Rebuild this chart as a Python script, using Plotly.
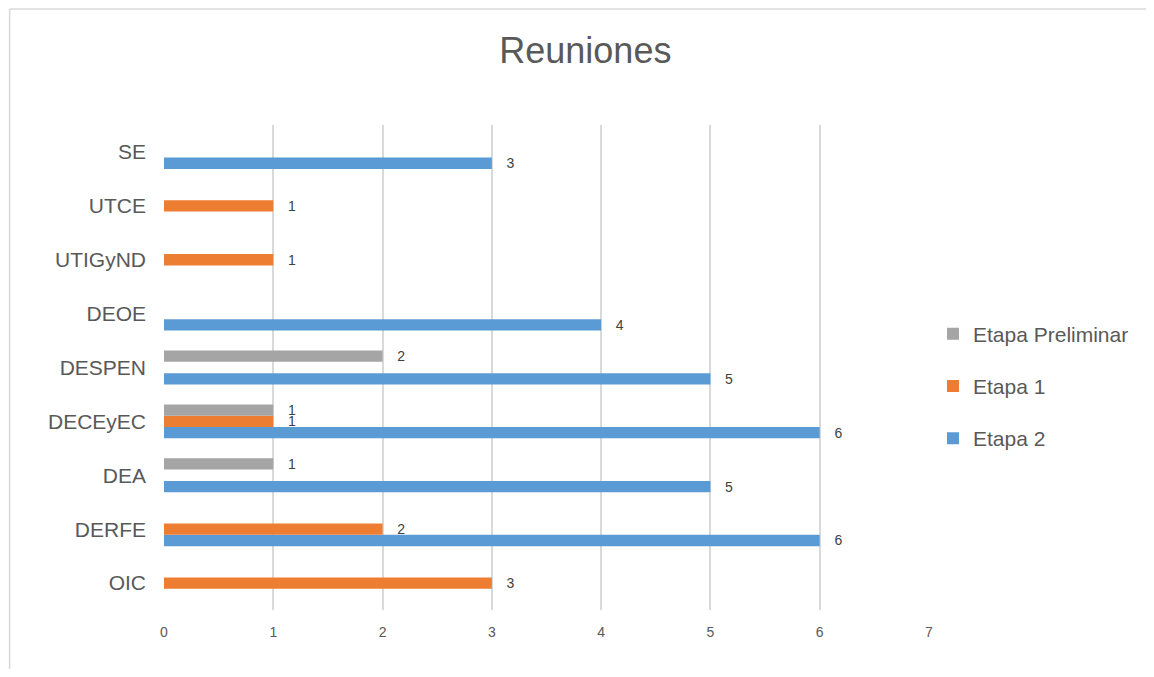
import plotly.graph_objects as go

categories = ["OIC", "DERFE", "DEA", "DECEyEC", "DESPEN", "DEOE", "UTIGyND", "UTCE", "SE"]
etapa2 = [None, 6, 5, 6, 5, 4, None, None, 3]
etapa1 = [3, 2, None, 1, None, None, 1, 1, None]
etapa_pre = [None, None, 1, 1, 2, None, None, None, None]
x_ticks = [0, 1, 2, 3, 4, 5, 6, 7]

series = [
    ("Etapa 2", etapa2, "#5B9BD5", 3),
    ("Etapa 1", etapa1, "#ED7D31", 2),
    ("Etapa Preliminar", etapa_pre, "#A5A5A5", 1),
]

fig = go.Figure()
for name, vals, color, rank in series:
    fig.add_trace(go.Bar(
        y=categories, x=vals, name=name, orientation="h",
        marker=dict(color=color, line=dict(width=0)),
        texttemplate="\u00a0\u00a0\u00a0%{x}", textposition="outside",
        constraintext="none",
        textfont=dict(size=14, color="#404040", family="Liberation Sans, Arial"),
        cliponaxis=False, legendgroup=name, legendrank=rank,
    ))

W, H = 1138, 661
L, R, T, B = 156, 214, 117, 59
pw, ph = W - L - R, H - T - B

def px_x(x):
    return (x - L) / pw

def px_y(y):
    return (H - B - y) / ph

border = dict(color="#D9D9D9", width=1.5)

fig.update_layout(
    width=W, height=H,
    margin=dict(l=L, r=R, t=T, b=B),
    paper_bgcolor="white", plot_bgcolor="white",
    barmode="group", bargap=0.37, bargroupgap=0,
    font=dict(family="Liberation Sans, Arial", color="#595959"),
    title=dict(text="Reuniones", x=px_x(579), xref="paper", xanchor="center",
               y=1 - 42.5 / H, yanchor="middle",
               font=dict(size=36, color="#595959")),
    xaxis=dict(range=[0, 7], tickvals=x_ticks, showgrid=True, gridcolor="#D9D9D9",
               gridwidth=1.5, zeroline=False, showline=False, ticks="",
               tickfont=dict(size=14, color="#595959"), ticklabelstandoff=12),
    yaxis=dict(categoryorder="array", categoryarray=categories, showgrid=False,
               zeroline=False, showline=False, ticks="",
               tickfont=dict(size=21, color="#595959"), ticklabelstandoff=17),
    legend=dict(x=px_x(928), xanchor="left", y=px_y(378), yanchor="middle",
                traceorder="grouped", tracegroupgap=22,
                font=dict(size=21, color="#595959"), itemwidth=30),
    showlegend=True,
    shapes=[
        dict(type="line", xref="paper", yref="paper",
             x0=px_x(1), x1=px_x(1), y0=px_y(H + 20), y1=px_y(1),
             line=border, layer="below"),
        dict(type="line", xref="paper", yref="paper",
             x0=px_x(1), x1=px_x(W + 20), y0=px_y(1), y1=px_y(1),
             line=border, layer="below"),
    ],
)

fig.write_html("out.html")
